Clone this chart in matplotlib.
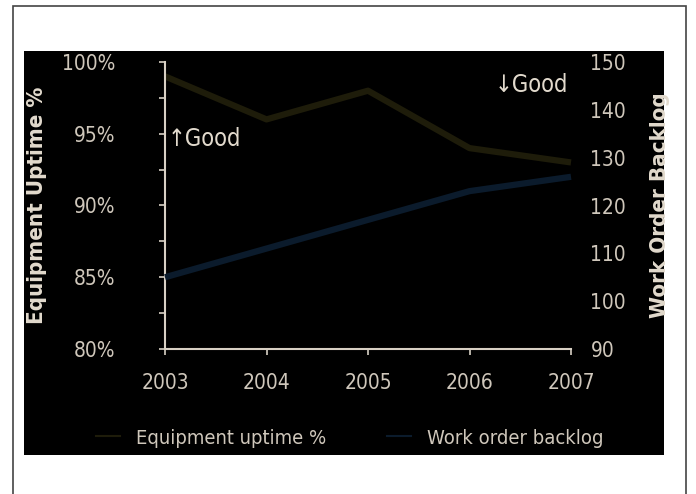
import matplotlib
matplotlib.use('Agg')
import matplotlib.pyplot as plt
from matplotlib.patches import Rectangle
from matplotlib.lines import Line2D
from matplotlib.ticker import MultipleLocator, FuncFormatter

years = [2003, 2004, 2005, 2006, 2007]
uptime = [99, 96, 98, 94, 93]
backlog = [105, 111, 117, 123, 126]

FONT = ['Liberation Sans Narrow', 'DejaVu Sans']
STRETCH = 'condensed'
txt = '#cfc7bb'
axis_col = '#d8d0c4'
c_up = '#1e1c0a'
c_bl = '#0b1b2c'

fig = plt.figure(figsize=(6.96, 4.94), dpi=100)
fig.patch.set_facecolor('white')

# outer frame and black panel (behind the axes)
fig.patches.append(Rectangle((13/696, -0.1), 673/696, 1.1 - 6/494, transform=fig.transFigure,
                             fill=False, edgecolor='#444444', linewidth=1.2, zorder=-2))
fig.patches.append(Rectangle((24/696, 1 - 455/494), 640/696, 404/494, transform=fig.transFigure,
                             facecolor='black', edgecolor='none', zorder=-1))

ax = fig.add_axes([165/696, 1 - 349/494, 406/696, 287/494])
ax.set_facecolor('none')
ax2 = ax.twinx()

ax.plot(years, uptime, color=c_up, lw=4.5, clip_on=False, solid_capstyle='butt')
ax2.plot(years, backlog, color=c_bl, lw=4.5, clip_on=False, solid_capstyle='butt')

ax.set_xlim(2003, 2007)
ax.set_ylim(80, 100)
ax2.set_ylim(90, 150)

for a in (ax, ax2):
    for s in a.spines.values():
        s.set_visible(False)
ax.spines['left'].set_visible(True)
ax.spines['bottom'].set_visible(True)
ax.spines['left'].set_color(axis_col)
ax.spines['bottom'].set_color(axis_col)
ax.spines['left'].set_linewidth(1.5)
ax.spines['bottom'].set_linewidth(1.5)

ax.set_xticks(years)
ax.yaxis.set_major_locator(MultipleLocator(5))
ax.yaxis.set_minor_locator(MultipleLocator(2.5))
ax.yaxis.set_major_formatter(FuncFormatter(lambda v, p: '%d%%' % v))
ax.tick_params(axis='y', which='both', colors=axis_col, length=4, width=1.2, pad=32,
               labelcolor=txt, labelsize=15)
ax.tick_params(axis='x', colors=axis_col, length=4, width=1.2, pad=13,
               labelcolor=txt, labelsize=15)
ax2.yaxis.set_major_locator(MultipleLocator(10))
ax2.tick_params(axis='y', length=0, pad=14, labelcolor=txt, labelsize=15)

for lab in ax.get_xticklabels() + ax.get_yticklabels() + ax2.get_yticklabels():
    lab.set_family(FONT)
    lab.set_stretch(STRETCH)

ax.set_ylabel('Equipment Uptime %', color='#e2dacd', fontsize=16, fontweight='bold',
              family=FONT, stretch=STRETCH, va='center')
ax.yaxis.set_label_coords(-128/406, 0.5)
ax2.set_ylabel('Work Order Backlog', color='#e2dacd', fontsize=16, fontweight='bold',
               family=FONT, stretch=STRETCH, rotation=90, va='center')
ax2.yaxis.set_label_coords(1 + 89/406, 0.5)

ax.text(2003.03, 94.6, '\u2191Good', color='#e2dacd', fontsize=17, family=FONT,
        stretch=STRETCH, va='center', ha='left')
ax.text(2006.97, 98.4, '\u2193Good', color='#e2dacd', fontsize=17, family=FONT,
        stretch=STRETCH, va='center', ha='right')

handles = [Line2D([], [], color=c_up, lw=1.5), Line2D([], [], color=c_bl, lw=1.5)]
leg = fig.legend(handles, ['Equipment uptime %', 'Work order backlog'],
                 loc='center', bbox_to_anchor=(350/696, 1 - 438/494), ncol=2,
                 frameon=False, handlelength=1.2, columnspacing=3.0,
                 prop={'family': FONT, 'size': 14.5, 'stretch': STRETCH})
for t in leg.get_texts():
    t.set_color(txt)

fig.savefig('out.png', dpi=100, facecolor='white')
